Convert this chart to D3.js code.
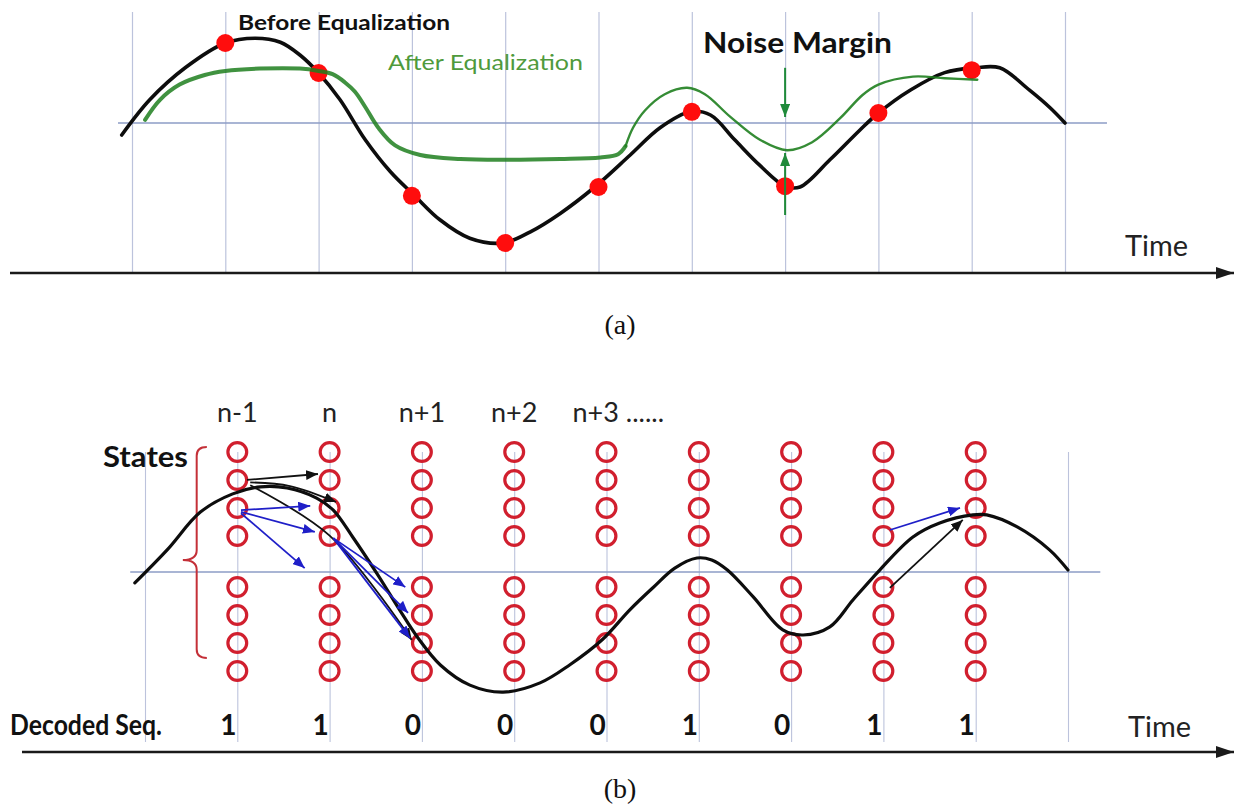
<!DOCTYPE html>
<html>
<head>
<meta charset="utf-8">
<script src="https://cdn.jsdelivr.net/npm/d3@7"></script>
<style>
  body { margin: 0; background: #fff; }
  svg { display: block; }
</style>
</head>
<body>
<svg id="chart" width="1238" height="807"></svg>
<script>
// ---------------- data ----------------
// (a) sampled received signal: time index, amplitude
const sampleTimes  = [1, 2, 3, 4, 5, 6, 7, 8, 9];
const sampleValues = [1.0, 0.625, -0.91, -1.5, -0.8, 0.14, -0.79, 0.125, 0.66];

// (a) waveform before equalization [t, amplitude]
const beforeEq = [
  [-0.11,-0.15],[0.19,0.29],[0.57,0.69],[1.0,1.0],[1.32,1.06],[1.59,1.01],[1.8,0.85],
  [2.0,0.625],[2.23,0.29],[2.5,-0.21],[2.77,-0.61],[3.03,-0.91],[3.3,-1.21],[3.62,-1.44],
  [3.98,-1.5],[4.27,-1.36],[4.59,-1.13],[4.96,-0.8],[5.34,-0.4],[5.66,-0.06],[5.98,0.14],
  [6.2,0.1],[6.46,-0.21],[6.73,-0.53],[7.0,-0.79],[7.16,-0.8],[7.48,-0.46],[7.8,-0.09],
  [8.0,0.125],[8.34,0.41],[8.71,0.63],[9.04,0.69],[9.3,0.69],[9.62,0.41],[9.84,0.19],[10.0,0.0]
];

// (a) waveform after equalization: heavy first section, lighter second section
const afterEqA = [
  [0.14,0.04],[0.3,0.29],[0.51,0.48],[0.78,0.6],[1.0,0.65],[1.37,0.68],[1.8,0.68],
  [2.0,0.65],[2.15,0.61],[2.28,0.51],[2.39,0.39],[2.5,0.2],[2.64,-0.06],[2.82,-0.28],
  [3.09,-0.4],[3.52,-0.45],[3.99,-0.46],[4.59,-0.45],[5.02,-0.43],[5.21,-0.39],[5.29,-0.29]
];
const afterEqB = [
  [5.29,-0.29],[5.37,-0.06],[5.5,0.16],[5.71,0.36],[5.95,0.44],[6.14,0.36],[6.41,0.08],
  [6.73,-0.21],[7.02,-0.34],[7.29,-0.24],[7.59,0.06],[7.83,0.35],[8.0,0.48],[8.37,0.58],
  [8.71,0.56],[9.06,0.54]
];

// (a) noise margin markers at t = 7: [t, from, to]
const marginArrows = [[7, 0.69, 0.075], [7, -1.15, -0.375]];

// (b) trellis
const stageTimes   = [1, 2, 3, 4, 5, 6, 7, 8, 9];
const stageLabels  = ["n-1", "n", "n+1", "n+2", "n+3 ......"];
const stateLevels  = [4.286, 3.286, 2.286, 1.286, -0.536, -1.536, -2.536, -3.536];
const decodedBits  = [1, 1, 0, 0, 0, 1, 0, 1, 1];

// (b) received waveform [t, level]
const receivedB = [
  [-0.11,-0.39],[0.24,0.79],[0.6,2.14],[0.95,2.79],[1.25,3.04],[1.54,3.0],[1.86,2.64],
  [2.04,2.21],[2.25,1.25],[2.51,-0.04],[2.76,-1.36],[2.95,-2.32],[3.2,-3.32],[3.52,-4.04],
  [3.88,-4.29],[4.28,-3.96],[4.6,-3.32],[4.95,-2.43],[5.25,-1.36],[5.5,-0.57],[5.74,0.14],
  [5.98,0.5],[6.14,0.43],[6.31,0.07],[6.59,-0.89],[6.91,-2.07],[7.13,-2.25],[7.42,-1.96],
  [7.67,-1.0],[7.96,0.07],[8.32,1.25],[8.61,1.75],[8.97,2.04],[9.12,2.04],[9.45,1.61],
  [9.8,0.79],[10.0,0.07]
];

// (b) state transitions, as [t, level] waypoints
const blackTransitions = [
  [[1.105,3.29],[1.874,3.5]],
  [[1.14,3.2],[1.57,3.07],[2.07,2.5]],
  [[1.14,3.1],[2.0,1.3],[2.89,-2.43]],
  [[8.07,-0.57],[8.86,1.86]]
];
const blueTransitions = [
  [[1.04,2.21],[1.79,2.36]],
  [[1.04,2.15],[1.84,1.43]],
  [[1.04,2.1],[1.73,0.14]],
  [[2.04,1.21],[2.82,-0.54]],
  [[2.04,1.21],[2.85,-1.46]],
  [[2.04,1.21],[2.87,-2.36]],
  [[8.07,1.5],[8.83,2.29]]
];

// ---------------- drawing ----------------
const svg = d3.select("#chart");
const FONT = "Lato, 'Open Sans', sans-serif";
const gridColor = "#bcc3dc";
const midColor = "#8d9cc6";

svg.append("rect").attr("width", 1238).attr("height", 807).attr("fill", "#fff");

const defs = svg.append("defs");
function marker(id, color, len, half) {
  defs.append("marker")
    .attr("id", id)
    .attr("markerUnits", "userSpaceOnUse")
    .attr("viewBox", `0 ${-half} ${len} ${2 * half}`)
    .attr("refX", len).attr("refY", 0)
    .attr("markerWidth", len).attr("markerHeight", 2 * half)
    .attr("orient", "auto")
    .append("path")
    .attr("d", `M0,${-half}L${len},0L0,${half}Z`)
    .attr("fill", color);
}
marker("axisHead", "#1a1a1a", 18, 6);
marker("greenHead", "#1f8a3a", 13, 5);
marker("blackHead", "#111", 12, 5);
marker("blueHead", "#1f1fc8", 12, 5);

// ===== panel (a) =====
const xA = d3.scaleLinear().domain([0, 10]).range([132, 1065]);
const yA = d3.scaleLinear().domain([-1.5, 1]).range([243, 43]);
const axisYA = 273;
const gridTopA = 12;

const gA = svg.append("g");
gA.append("g")
  .attr("transform", `translate(0,${axisYA})`)
  .call(d3.axisBottom(xA).tickValues(d3.range(0, 11)).tickSize(-(axisYA - gridTopA)).tickFormat(""))
  .call(g => g.select(".domain").remove())
  .call(g => g.selectAll("line").attr("stroke", gridColor).attr("stroke-width", 1.2));

gA.append("line")
  .attr("x1", xA(-0.15)).attr("x2", xA(10.45))
  .attr("y1", yA(0)).attr("y2", yA(0))
  .attr("stroke", midColor).attr("stroke-width", 1.4);

gA.append("line")
  .attr("x1", 10).attr("x2", 1234).attr("y1", axisYA).attr("y2", axisYA)
  .attr("stroke", "#1a1a1a").attr("stroke-width", 2.6)
  .attr("marker-end", "url(#axisHead)");

const lineA = d3.line().x(d => xA(d[0])).y(d => yA(d[1])).curve(d3.curveCatmullRom.alpha(0.5));

gA.append("path").attr("d", lineA(beforeEq))
  .attr("fill", "none").attr("stroke", "#0d0d0d").attr("stroke-width", 3.6)
  .attr("stroke-linecap", "round").attr("stroke-linejoin", "round");

gA.selectAll("circle.sample")
  .data(sampleTimes.map((t, i) => [t, sampleValues[i]]))
  .join("circle").attr("class", "sample")
  .attr("cx", d => xA(d[0])).attr("cy", d => yA(d[1])).attr("r", 9)
  .attr("fill", "#ff0d0d");

gA.append("path").attr("d", lineA(afterEqA))
  .attr("fill", "none").attr("stroke", "#1f7f1f").attr("stroke-width", 4)
  .attr("stroke-opacity", 0.85).attr("stroke-linecap", "round");
gA.append("path").attr("d", lineA(afterEqB))
  .attr("fill", "none").attr("stroke", "#1f7f1f").attr("stroke-width", 2.4)
  .attr("stroke-opacity", 0.9).attr("stroke-linecap", "round");

gA.selectAll("line.margin")
  .data(marginArrows)
  .join("line").attr("class", "margin")
  .attr("x1", d => xA(d[0])).attr("x2", d => xA(d[0]))
  .attr("y1", d => yA(d[1])).attr("y2", d => yA(d[2]))
  .attr("stroke", "#1f8a3a").attr("stroke-width", 2)
  .attr("marker-end", "url(#greenHead)");

function label(g, txt, x, y, opts) {
  const t = g.append("text").text(txt)
    .attr("x", x).attr("y", y)
    .attr("font-family", opts.family || FONT)
    .attr("font-size", opts.size)
    .attr("font-weight", opts.weight || "normal")
    .attr("fill", opts.color || "#111")
    .attr("text-anchor", opts.anchor || "start");
  if (opts.len) t.attr("textLength", opts.len).attr("lengthAdjust", "spacingAndGlyphs");
  return t;
}

label(gA, "Before Equalization", 238, 30, { size: 21, weight: "bold", len: 212 });
label(gA, "After Equalization", 388, 70, { size: 21, color: "#4f9a3c", len: 195 });
label(gA, "Noise Margin", 703, 53, { size: 28, weight: "bold", len: 189 });
label(gA, "Time", 1125, 256, { size: 29, color: "#222", len: 63 });
label(svg, "(a)", 620, 334, { size: 28, family: "'Liberation Serif', 'Times New Roman', serif", anchor: "middle" });

// ===== panel (b) =====
const xB = d3.scaleLinear().domain([0, 10]).range([145, 1068]);
const yB = d3.scaleLinear().domain([-4, 4]).range([684, 460]);
const axisYB = 752;
const gridTopB = 452, gridBotB = 742;

const gB = svg.append("g");
gB.append("g")
  .attr("transform", `translate(0,${gridBotB})`)
  .call(d3.axisBottom(xB).tickValues(d3.range(0, 11)).tickSize(-(gridBotB - gridTopB)).tickFormat(""))
  .call(g => g.select(".domain").remove())
  .call(g => g.selectAll("line").attr("stroke", gridColor).attr("stroke-width", 1.1));

gB.append("line")
  .attr("x1", xB(-0.16)).attr("x2", xB(10.35))
  .attr("y1", yB(0)).attr("y2", yB(0))
  .attr("stroke", midColor).attr("stroke-width", 1.4);

gB.append("line")
  .attr("x1", 22).attr("x2", 1234).attr("y1", axisYB).attr("y2", axisYB)
  .attr("stroke", "#1a1a1a").attr("stroke-width", 2.6)
  .attr("marker-end", "url(#axisHead)");

// curly brace grouping the states
const brace = d3.path();
brace.moveTo(xB(0.67), yB(4.46));
brace.quadraticCurveTo(xB(0.56), yB(4.46), xB(0.56), yB(4.15));
brace.lineTo(xB(0.56), yB(0.78));
brace.quadraticCurveTo(xB(0.56), yB(0.43), xB(0.41), yB(0.43));
brace.quadraticCurveTo(xB(0.56), yB(0.43), xB(0.56), yB(0.08));
brace.lineTo(xB(0.56), yB(-2.76));
brace.quadraticCurveTo(xB(0.56), yB(-3.07), xB(0.67), yB(-3.07));
gB.append("path").attr("d", brace.toString())
  .attr("fill", "none").attr("stroke", "#c43038").attr("stroke-width", 2);

// state circles
const cells = stageTimes.flatMap(t => stateLevels.map(s => [t, s]));
gB.selectAll("circle.state")
  .data(cells)
  .join("circle").attr("class", "state")
  .attr("cx", d => xB(d[0])).attr("cy", d => yB(d[1])).attr("r", 9.4)
  .attr("fill", "none").attr("stroke", "#d11f2e").attr("stroke-width", 3.2);

const lineB = d3.line().x(d => xB(d[0])).y(d => yB(d[1])).curve(d3.curveCatmullRom.alpha(0.5));

gB.append("path").attr("d", lineB(receivedB))
  .attr("fill", "none").attr("stroke", "#0d0d0d").attr("stroke-width", 3.2)
  .attr("stroke-linecap", "round").attr("stroke-linejoin", "round");

gB.selectAll("path.black-tr")
  .data(blackTransitions)
  .join("path").attr("class", "black-tr")
  .attr("d", d => lineB(d))
  .attr("fill", "none").attr("stroke", "#111").attr("stroke-width", 1.8)
  .attr("marker-end", "url(#blackHead)");

gB.selectAll("path.blue-tr")
  .data(blueTransitions)
  .join("path").attr("class", "blue-tr")
  .attr("d", d => lineB(d))
  .attr("fill", "none").attr("stroke", "#1f1fc8").attr("stroke-width", 1.8)
  .attr("marker-end", "url(#blueHead)");

// stage labels
stageLabels.forEach((s, i) => {
  const last = i === stageLabels.length - 1;
  label(gB, s, last ? xB(stageTimes[i]) - 34 : xB(stageTimes[i]), 422,
        { size: 27, color: "#222", anchor: last ? "start" : "middle" });
});

label(gB, "States", 103, 467, { size: 28, weight: "bold", len: 85 });
label(gB, "Decoded Seq.", 10, 735, { size: 28, weight: "bold", len: 152 });
decodedBits.forEach((b, i) => {
  label(gB, String(b), xB(stageTimes[i]) - 9, 735, { size: 28, weight: "bold", anchor: "middle" });
});
label(gB, "Time", 1128, 737, { size: 29, color: "#222", len: 63 });
label(svg, "(b)", 620, 798, { size: 28, family: "'Liberation Serif', 'Times New Roman', serif", anchor: "middle" });
</script>
</body>
</html>
